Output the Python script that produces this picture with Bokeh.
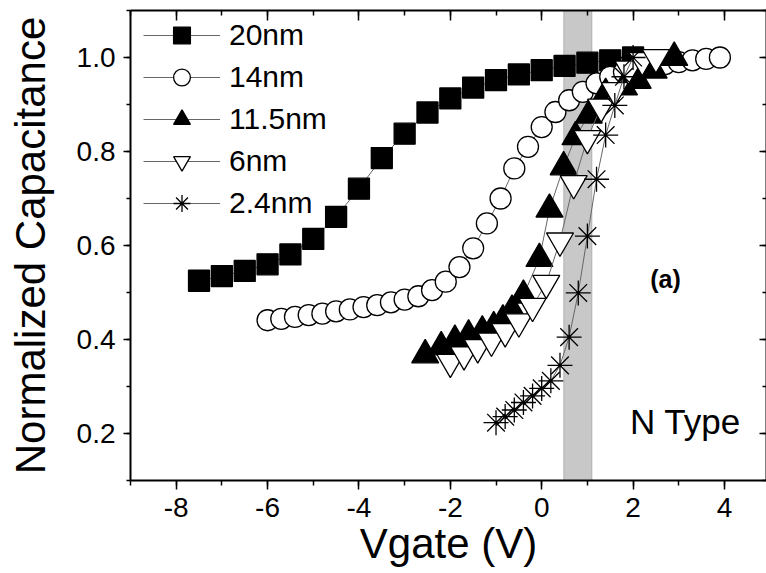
from bokeh.plotting import figure
from bokeh.models import (LinearAxis, SingleIntervalTicker, NumeralTickFormatter, BoxAnnotation,
                          Legend, LegendItem, Label, Range1d, CustomJSTickFormatter)
from bokeh.embed import file_html
from bokeh.resources import INLINE

FONT = "Liberation Sans"

# ---- data -------------------------------------------------------------
vg_20 = [-7.5, -7.0, -6.5, -6.0, -5.5, -5.0, -4.5, -4.0, -3.5, -3.0, -2.5, -2.0, -1.5, -1.0, -0.5,
         0.0, 0.5, 1.0, 1.5, 2.0]
c_20 = [0.525, 0.535, 0.546, 0.560, 0.581, 0.614, 0.661, 0.721, 0.786, 0.838, 0.883, 0.913, 0.936,
        0.952, 0.964, 0.973, 0.982, 0.989, 0.994, 1.0]

vg_14 = [-6.0, -5.7, -5.4, -5.1, -4.8, -4.5, -4.2, -3.9, -3.6, -3.3, -3.0, -2.7, -2.4, -2.1,
         -1.8, -1.5, -1.2, -0.9, -0.6, -0.3, 0.0, 0.3, 0.6, 0.9, 1.2, 1.5, 1.8, 2.1, 2.4, 2.7,
         3.0, 3.3, 3.6, 3.9]
c_14 = [0.441, 0.444, 0.448, 0.452, 0.455, 0.460, 0.464, 0.469, 0.473, 0.479, 0.485, 0.492, 0.505,
        0.523, 0.554, 0.594, 0.647, 0.700, 0.764, 0.810, 0.852, 0.884, 0.909, 0.927, 0.945, 0.959,
        0.969, 0.977, 0.982, 0.986, 0.990, 0.994, 0.997, 1.0]

vg_115 = [-2.55, -2.2, -1.9, -1.6, -1.3, -1.05, -0.85, -0.65, -0.4, -0.05, 0.17, 0.48, 0.74, 1.03,
          1.4, 1.8, 2.1, 2.45, 2.9]
c_115 = [0.367, 0.384, 0.398, 0.409, 0.418, 0.427, 0.441, 0.462, 0.494, 0.572, 0.677, 0.767, 0.831,
         0.877, 0.923, 0.937, 0.951, 0.973, 1.0]

vg_6 = [-2.0, -1.7, -1.4, -1.1, -0.8, -0.5, -0.2, 0.1, 0.4, 0.7, 1.0, 1.3, 1.6, 1.9, 2.2, 2.5]
c_6 = [0.352, 0.368, 0.383, 0.397, 0.417, 0.438, 0.471, 0.520, 0.610, 0.732, 0.828, 0.895, 0.930,
       0.976, 0.994, 1.0]

vg_24 = [-1.0, -0.8, -0.6, -0.4, -0.2, 0.0, 0.2, 0.4, 0.6, 0.8, 1.0, 1.2, 1.4, 1.6, 1.8, 2.0]
c_24 = [0.223, 0.236, 0.250, 0.266, 0.280, 0.296, 0.312, 0.345, 0.405, 0.499, 0.620, 0.741, 0.835,
        0.898, 0.959, 1.0]

labels = ["20nm", "14nm", "11.5nm", "6nm", "2.4nm"]
band_left, band_right = 0.48, 1.1
x_range = (-9.0, 4.92)
y_range = (0.1, 1.1)

# ---- figure -----------------------------------------------------------
p = figure(width=766, height=573, output_backend="svg", toolbar_location=None,
           x_range=Range1d(*x_range), y_range=Range1d(*y_range),
           min_border_left=130, min_border_top=10, min_border_right=0, min_border_bottom=93,
           x_axis_label="Vgate (V)", y_axis_label="Normalized Capacitance")
p.outline_line_color = None
p.grid.visible = False
p.background_fill_color = "white"
p.border_fill_color = "white"

xt = SingleIntervalTicker(interval=2, num_minor_ticks=2)
yt = SingleIntervalTicker(interval=0.2, num_minor_ticks=2)

xa = p.xaxis[0]
xa.ticker = xt
xa.formatter = NumeralTickFormatter(format="0")
ya = p.yaxis[0]
ya.ticker = yt
ya.formatter = NumeralTickFormatter(format="0.0")

for ax in (xa, ya):
    ax.axis_line_width = 2
    ax.axis_line_color = "black"
    ax.major_tick_line_width = 1.5
    ax.minor_tick_line_width = 1.5
    ax.major_tick_line_color = "black"
    ax.minor_tick_line_color = "black"
    ax.major_label_text_font = FONT
    ax.major_label_text_font_size = "28px"
    ax.major_label_text_color = "black"
    ax.axis_label_text_font = FONT
    ax.axis_label_text_font_style = "normal"
    ax.axis_label_text_color = "black"
    ax.major_tick_in = 0
    ax.minor_tick_in = 0

xa.major_tick_out = 9
xa.minor_tick_out = 5
xa.major_label_standoff = 8
xa.axis_label_text_font_size = "42px"
xa.axis_label_standoff = 0

ya.major_tick_out = 7
ya.minor_tick_out = 4
ya.major_label_standoff = 8
ya.axis_label_text_font_size = "42px"
ya.axis_label_standoff = 20

blank = CustomJSTickFormatter(code="return ''")
top = LinearAxis(ticker=xt, formatter=blank, major_label_standoff=0,
                 major_tick_in=10, major_tick_out=0, minor_tick_in=5, minor_tick_out=0,
                 axis_line_width=2, major_tick_line_width=1.5, minor_tick_line_width=1.5)
right = LinearAxis(ticker=yt, formatter=blank, major_label_standoff=0,
                   major_tick_in=7, major_tick_out=0, minor_tick_in=4, minor_tick_out=0,
                   axis_line_width=2, major_tick_line_width=1.5, minor_tick_line_width=1.5)
p.add_layout(top, "above")
p.add_layout(right, "right")

band = BoxAnnotation(left=band_left, right=band_right, fill_color="#c8c8c8", fill_alpha=1.0,
                     line_color="#7a7a7a", line_width=1.2, level="underlay")
p.add_layout(band)

LINE = "#666666"
series = [
    (vg_20, c_20, "square", 21, "black"),
    (vg_14, c_14, "circle", 21, "white"),
    (vg_115, c_115, "triangle", 27, "black"),
    (vg_6, c_6, "inverted_triangle", 27, "white"),
    (vg_24, c_24, "asterisk", 25, "black"),
]
items = []
for (xs, ys, mk, sz, fc), lab in zip(series, labels):
    lr = p.line(xs, ys, line_color=LINE, line_width=1)
    sr = p.scatter(xs, ys, marker=mk, size=sz, fill_color=fc, line_color="black", line_width=1.3)
    items.append(LegendItem(label=lab, renderers=[lr, sr]))

legend = Legend(items=items, location=(13, 256), glyph_width=77, glyph_height=42, spacing=0,
                label_standoff=9, label_text_font=FONT, label_text_font_size="30px",
                label_height=42, label_text_color="black", padding=0, margin=0,
                border_line_color=None, background_fill_alpha=0)
p.add_layout(legend)

p.add_layout(Label(x=2.71, y=0.528, text="(a)", text_font=FONT, text_font_size="25px",
                   text_font_style="bold", text_color="black",
                   text_align="center", text_baseline="middle"))
p.add_layout(Label(x=1.93, y=0.225, text="N Type", text_font=FONT, text_font_size="35px",
                   text_color="black", text_align="left", text_baseline="alphabetic"))

open("out.html", "w").write(file_html(p, INLINE))
